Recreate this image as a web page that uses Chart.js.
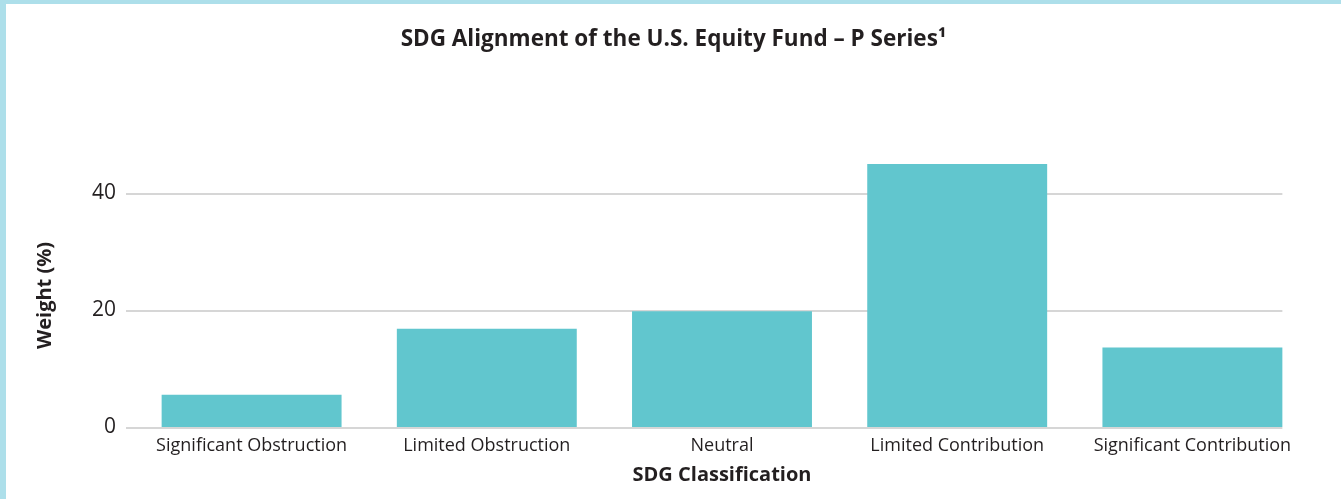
<!DOCTYPE html>
<html>
<head>
<meta charset="utf-8">
<script src="https://cdn.jsdelivr.net/npm/chart.js@4.4.1/dist/chart.umd.min.js"></script>
<style>
  html, body { margin: 0; padding: 0; background: #ffffff; }
  .frame {
    width: 1335px;
    height: 495px;
    border-top: 4px solid #addfea;
    border-left: 6px solid #addfea;
    background: #ffffff;
  }
  canvas { display: block; }
</style>
</head>
<body>
<div class="frame">
  <canvas id="sdgChart" width="1335" height="495"></canvas>
</div>
<script>
// SDG alignment chart data
const categories = [
  'Significant Obstruction',
  'Limited Obstruction',
  'Neutral',
  'Limited Contribution',
  'Significant Contribution'
];
const weights = [5.5, 16.8, 19.8, 45.0, 13.6];
const yTicks = [0, 20, 40];

const TEXT = '#231f20';
const FONT = "'Open Sans', 'Noto Sans', sans-serif";

// Gridlines running from just left of the plot to the last bar's right edge
const gridPlugin = {
  id: 'barGrid',
  beforeDatasetsDraw(chart) {
    const { ctx, chartArea, scales } = chart;
    const bars = chart.getDatasetMeta(0).data;
    if (!bars.length) return;
    const last = bars[bars.length - 1];
    const x0 = chartArea.left - 8;
    const x1 = last.x + last.width / 2;
    ctx.save();
    ctx.strokeStyle = '#d6d6d6';
    ctx.lineWidth = 2;
    yTicks.forEach((v) => {
      const y = Math.round(scales.y.getPixelForValue(v)) + 1;
      ctx.beginPath();
      ctx.moveTo(x0, y);
      ctx.lineTo(x1, y);
      ctx.stroke();
    });
    ctx.restore();
  }
};

const ctx = document.getElementById('sdgChart');
new Chart(ctx, {
  type: 'bar',
  data: {
    labels: categories,
    datasets: [{
      label: 'Weight (%)',
      data: weights,
      backgroundColor: '#61c6ce',
      borderWidth: 0,
      categoryPercentage: 1,
      barPercentage: 0.765
    }]
  },
  options: {
    responsive: false,
    animation: false,
    layout: { padding: 0 },
    plugins: {
      legend: { display: false },
      tooltip: { enabled: false },
      title: {
        display: true,
        text: 'SDG Alignment of the U.S. Equity Fund \u2013 P Series\u00b9',
        color: TEXT,
        font: { family: FONT, size: 22.5, weight: 'bold' },
        padding: { top: 22, bottom: 111 }
      }
    },
    scales: {
      x: {
        grid: { display: false, drawTicks: false },
        border: { display: false },
        ticks: {
          color: TEXT,
          font: { family: FONT, size: 18 },
          padding: 8,
          maxRotation: 0,
          autoSkip: false
        },
        title: {
          display: true,
          text: 'SDG Classification',
          color: TEXT,
          font: { family: FONT, size: 20, weight: 'bold' },
          padding: { top: 4, bottom: 12 }
        },
        afterFit(scale) { scale.height = 72; }
      },
      y: {
        min: 0,
        max: Math.max(...weights),
        grid: { display: false, drawTicks: false },
        border: { display: false },
        ticks: {
          stepSize: 20,
          color: TEXT,
          font: { family: FONT, size: 21 },
          padding: 18
        },
        afterBuildTicks(axis) {
          axis.ticks = yTicks.map((v) => ({ value: v }));
        },
        title: {
          display: true,
          text: 'Weight (%)',
          color: TEXT,
          font: { family: FONT, size: 20, weight: 'bold' },
          padding: { top: 27, bottom: 0 }
        },
        afterFit(scale) { scale.width = 128; }
      },
      // empty right-hand spacer so the plot stops short of the edge
      spacer: {
        type: 'linear',
        position: 'right',
        grid: { display: false, drawTicks: false },
        border: { display: false },
        ticks: { display: false },
        afterFit(scale) { scale.width = 31; }
      }
    }
  },
  plugins: [gridPlugin]
});
</script>
</body>
</html>
